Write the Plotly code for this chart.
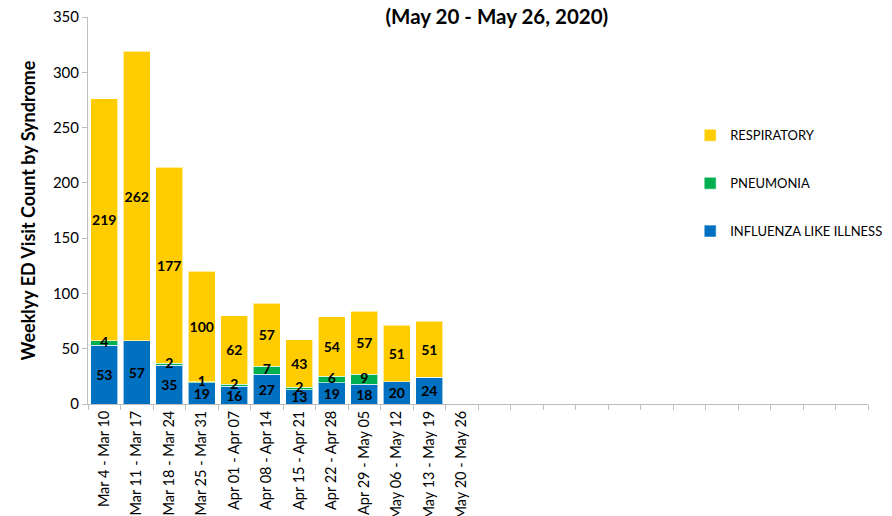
import plotly.graph_objects as go

weeks = ["Mar 4 - Mar 10", "Mar 11 - Mar 17", "Mar 18 - Mar 24", "Mar 25 - Mar 31",
         "Apr 01 - Apr 07", "Apr 08 - Apr 14", "Apr 15 - Apr 21", "Apr 22 - Apr 28",
         "Apr 29 - May 05", "May 06 - May 12", "May 13 - May 19", "May 20 - May 26"]
# empty slots on the axis after the labelled weeks
blank_slots = 12

ili = [53, 57, 35, 19, 16, 27, 13, 19, 18, 20, 24, None]
pneumonia = [4, 0, 2, 1, 2, 7, 2, 6, 9, 0, 0, None]
respiratory = [219, 262, 177, 100, 62, 57, 43, 54, 57, 51, 51, None]

categories = weeks + [" " * (i + 1) for i in range(blank_slots)]
ticktext = weeks + [""] * blank_slots

def pad(v):
    return v + [None] * blank_slots

def labels(v):
    return [("" if (x is None or x == 0) else str(x)) for x in v] + [""] * blank_slots

label_font = dict(family="Lato", size=14, color="black", weight="bold")

series = [
    ("INFLUENZA LIKE ILLNESS", ili, "#0070C0", True, 3),
    ("PNEUMONIA", pneumonia, "#00B050", False, 2),
    ("RESPIRATORY", respiratory, "#FFCC00", True, 1),
]

fig = go.Figure()
for name, vals, col, inside_text, rank in series:
    fig.add_trace(go.Bar(
        x=categories, y=pad(vals), name=name, legendgroup=name, legendrank=rank,
        marker=dict(color=col, line=dict(color="rgba(255,255,255,0.6)", width=1)),
        text=labels(vals) if inside_text else None,
        textposition="inside" if inside_text else "none",
        insidetextanchor="middle", textangle=0, constraintext="none",
        textfont=label_font, cliponaxis=False,
    ))

# pneumonia labels drawn on top, centred in their (thin) segments
pn_mid = [(a + b / 2) if (a is not None and b) else None for a, b in zip(ili, pneumonia)]
fig.add_trace(go.Scatter(
    x=categories, y=pad(pn_mid), text=labels(pneumonia), mode="text",
    textposition="middle center", textfont=label_font, showlegend=False,
    hoverinfo="skip", cliponaxis=False,
))

fig.update_layout(
    barmode="stack", bargap=0.16,
    width=892, height=516,
    margin=dict(l=88, r=4, t=17, b=112),
    paper_bgcolor="white", plot_bgcolor="white",
    uniformtext=dict(minsize=14, mode="show"),
    font=dict(family="Lato", color="black"),
    title=dict(text="<b>(May 20 - May 26, 2020)</b>", x=0.557, xanchor="center",
               y=0.968, yanchor="middle", font=dict(family="Lato", size=20.5, color="black")),
    legend=dict(x=0.772, y=0.733, xanchor="left", yanchor="top", traceorder="grouped",
                font=dict(family="Lato", size=13, color="black"), tracegroupgap=28,
                itemwidth=30, bgcolor="rgba(0,0,0,0)"),
    showlegend=True,
)
fig.update_xaxes(
    type="category", categoryorder="array", categoryarray=categories,
    tickvals=categories, ticktext=ticktext, tickangle=-90,
    tickson="boundaries", ticks="outside", ticklen=5, tickcolor="#BFBFBF",
    showline=True, linecolor="#BFBFBF", linewidth=1, showgrid=False,
    tickfont=dict(family="Lato", size=14.5, color="black"),
    range=[-0.5, len(categories) - 0.5], automargin=False,
)
fig.update_yaxes(
    range=[0, 350], dtick=50, ticks="outside", ticklen=5, tickcolor="#BFBFBF",
    showline=True, linecolor="#BFBFBF", linewidth=1, showgrid=False,
    tickfont=dict(family="Lato", size=15, color="black"),
    title=dict(text="<b>Weeklyy ED Visit Count by Syndrome</b>", standoff=12,
               font=dict(family="Lato", size=18, color="black")),
    zeroline=False, automargin=False,
)

fig.write_html("out.html", config={"displayModeBar": False},
               post_script="document.body.style.margin='0';")
